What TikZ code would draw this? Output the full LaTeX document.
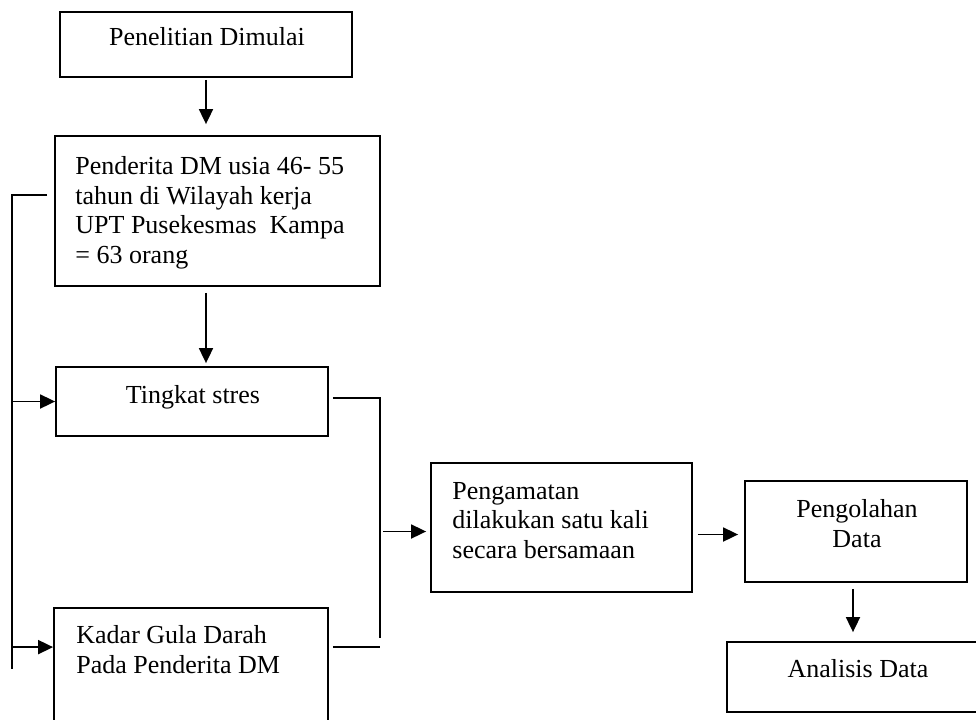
\documentclass[tikz,border=0pt]{standalone}
\usepackage{fontspec}
\setmainfont{Liberation Serif}
\usetikzlibrary{arrows.meta,calc}
\begin{document}
\begin{tikzpicture}[x=0.5pt,y=-0.5pt,
  box/.style={draw,line width=0.9pt,rectangle,inner sep=0pt,anchor=center},
  txt/.style={inner sep=0pt,font=\fontsize{13pt}{14.7pt}\selectfont},
  conn/.style={line width=0.9pt},
  arr/.style={line width=0.9pt,-{Triangle[length=7.5pt,width=7pt]}}]
\useasboundingbox (0,0) rectangle (976,719);
\clip (0,0) rectangle (976,719);
% boxes
\node[box,minimum width=146pt,minimum height=32.5pt] (pen) at (206,44.5) {};
\node[box,minimum width=162.5pt,minimum height=75pt] (pend) at (217.5,211) {};
\node[box,minimum width=136pt,minimum height=34.5pt] (ting) at (192,401.5) {};
\node[box,minimum width=137pt,minimum height=76pt] (kadar) at (191,684) {};
\node[box,minimum width=130.5pt,minimum height=64.5pt] (amat) at (561.5,527.5) {};
\node[box,minimum width=111pt,minimum height=50.5pt] (olah) at (856,531.5) {};
\node[box,minimum width=136.5pt,minimum height=35pt] (anal) at (863.5,677) {};
% texts (base anchor of a multi-line node = baseline of its last line)
\node[txt,anchor=base] (tpen) at (207,45) {Penelitian Dimulai};
\node[txt,anchor=base west,align=left] (tpend) at (75,263) {Penderita DM usia 46- 55\\tahun di Wilayah kerja\\UPT Pusekesmas\ \ Kampa\\= 63 orang};
\node[txt,anchor=base] (tting) at (193,403) {Tingkat stres};
\node[txt,anchor=base west,align=left] (tkadar) at (76,673) {Kadar Gula Darah\\Pada Penderita DM};
\node[txt,anchor=base west,align=left] (tamat) at (452,558) {Pengamatan\\dilakukan satu kali\\secara bersamaan};
\node[txt,anchor=base,align=center] (tolah) at (857,547) {Pengolahan\\Data};
\node[txt,anchor=base] (tanal) at (858,677) {Analisis Data};
% helper coordinates
\coordinate (tickA) at (47,195);
\coordinate (brTop) at (12,195);
\coordinate (brBot) at (12,669);
\coordinate (kIn) at ([yshift=-20pt]kadar.north west);
\coordinate (rTop) at (380,398);
\coordinate (rBot) at (380,638);
\coordinate (aIn) at ([yshift=-2pt]amat.west);
\coordinate (oIn) at ([yshift=-1.5pt]olah.west);
% connectors
\draw[arr,shorten >=5.5pt] ([yshift=-1pt]pen.south) -- (pen.south |- pend.north);
\draw[arr,shorten >=1.5pt] ([yshift=-3pt]pend.south -| pen.south) -- (pen.south |- ting.north);
\draw[conn] (tickA) -- (brTop) -- (brBot);
\draw[arr] (brTop |- ting.west) -- (ting.west);
\draw[arr] (brTop |- kIn) -- (kIn);
\draw[conn] ([xshift=2pt]ting.east |- rTop) -- (rTop) -- (rBot);
\draw[conn] ([xshift=2pt]kadar.east |- kIn) -- (rTop |- kIn);
\draw[arr,shorten >=2pt] ([xshift=1.5pt]rTop |- aIn) -- (aIn);
\draw[arr,shorten >=3pt] ([xshift=2.5pt]amat.east |- oIn) -- (oIn);
\draw[arr,shorten >=4.5pt] ([xshift=-1.5pt,yshift=-3pt]olah.south) -- ([xshift=-1.5pt]olah.south |- anal.north);
\end{tikzpicture}
\end{document}
